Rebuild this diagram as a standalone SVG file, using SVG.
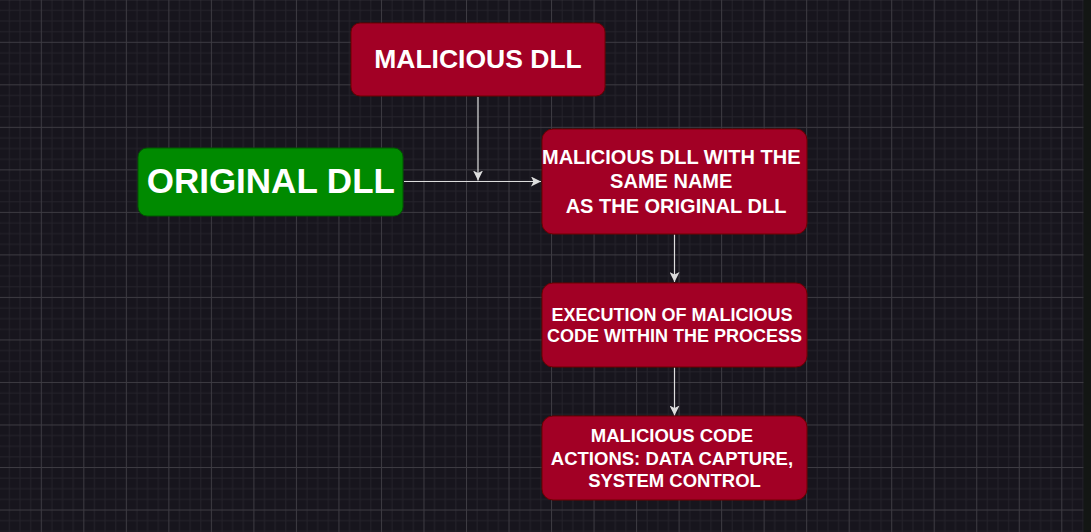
<svg xmlns="http://www.w3.org/2000/svg" width="1091" height="532" viewBox="0 0 1091 532">
  <style>
    .node-red { fill: #a20025; stroke: #6f0000; stroke-width: 1; }
    .node-green { fill: #008a00; stroke: #005700; stroke-width: 1; }
    .label { font-family: "Liberation Sans", Arial, sans-serif; font-weight: bold; fill: #ffffff; text-anchor: middle; }
    .edge { fill: none; stroke: #dddddd; stroke-width: 1.2; }
  </style>
  <defs>
    <pattern id="grid" patternUnits="userSpaceOnUse" x="-1.72" y="-0.72" width="42.52" height="42.52">
      <rect x="0" y="0" width="42.52" height="42.52" fill="#17151d"/>
      <rect x="10.63" y="0" width="1" height="42.52" fill="#24222a"/>
      <rect x="21.26" y="0" width="1" height="42.52" fill="#24222a"/>
      <rect x="31.89" y="0" width="1" height="42.52" fill="#24222a"/>
      <rect x="0" y="10.63" width="42.52" height="1" fill="#24222a"/>
      <rect x="0" y="21.26" width="42.52" height="1" fill="#24222a"/>
      <rect x="0" y="31.89" width="42.52" height="1" fill="#24222a"/>
      <rect x="0" y="0" width="1" height="42.52" fill="#3d3b42"/>
      <rect x="0" y="0" width="42.52" height="1" fill="#3d3b42"/>
    </pattern>
    <marker id="arrow" markerUnits="userSpaceOnUse" markerWidth="10" markerHeight="10" viewBox="0 0 9 9" refX="9" refY="4.5" orient="auto">
      <path d="M0,0 L9,4.5 L0,9 L2.2,4.5 Z" fill="#dddddd"/>
    </marker>
  </defs>

  <rect x="0" y="0" width="1091" height="532" fill="url(#grid)"/>
  <rect x="1083.5" y="0" width="7.5" height="532" fill="#131614"/>

  <g id="connectors">
    <path class="edge" d="M478,97 L478,180.5" marker-end="url(#arrow)"/>
    <path class="edge" d="M404,181.5 L541,181.5" marker-end="url(#arrow)"/>
    <path class="edge" d="M674.5,234.5 L674.5,282" marker-end="url(#arrow)"/>
    <path class="edge" d="M674.5,367.5 L674.5,415.5" marker-end="url(#arrow)"/>
  </g>

  <g id="malicious-dll">
    <rect class="node-red" x="351" y="23" width="254" height="73" rx="9" ry="9"/>
    <text class="label" x="478" y="67.5" font-size="26.5">MALICIOUS DLL</text>
  </g>

  <g id="original-dll">
    <rect class="node-green" x="138" y="148" width="265" height="68" rx="9" ry="9"/>
    <text class="label" x="270.8" y="192.5" font-size="35">ORIGINAL DLL</text>
  </g>

  <g id="malicious-same-name">
    <rect class="node-red" x="542" y="129" width="265" height="105" rx="11" ry="11"/>
    <text class="label" font-size="20">
      <tspan x="674" y="163.5">MALICIOUS DLL WITH THE</tspan>
      <tspan x="674" y="188">SAME NAME</tspan>
      <tspan x="676" y="212.5">AS THE ORIGINAL DLL</tspan>
    </text>
  </g>

  <g id="execution">
    <rect class="node-red" x="542" y="283" width="265" height="84" rx="11" ry="11"/>
    <text class="label" font-size="18">
      <tspan x="674.5" y="320.5">EXECUTION OF MALICIOUS</tspan>
      <tspan x="674.5" y="341.5">CODE WITHIN THE PROCESS</tspan>
    </text>
  </g>

  <g id="actions">
    <rect class="node-red" x="542" y="416" width="265" height="84" rx="11" ry="11"/>
    <text class="label" font-size="18.5">
      <tspan x="674.5" y="442.3">MALICIOUS CODE</tspan>
      <tspan x="674.5" y="464.5">ACTIONS: DATA CAPTURE,</tspan>
      <tspan x="674.5" y="486.7">SYSTEM CONTROL</tspan>
    </text>
  </g>
</svg>
